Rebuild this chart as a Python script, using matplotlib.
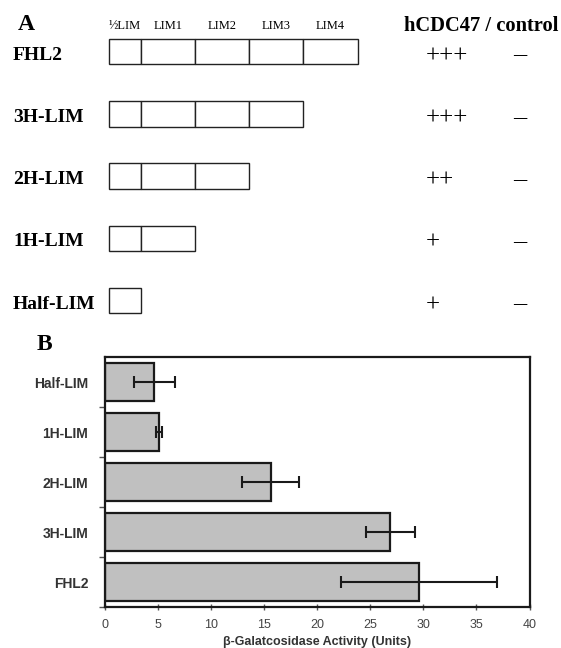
import numpy as np
import matplotlib.pyplot as plt
from matplotlib.patches import Rectangle

# panel A data
constructs = ["FHL2", "3H-LIM", "2H-LIM", "1H-LIM", "Half-LIM"]
domain_names = ["½LIM", "LIM1", "LIM2", "LIM3", "LIM4"]
domain_widths = [0.58, 1, 1, 1, 1]
n_domains = [5, 4, 3, 2, 1]
hcdc47 = ["+++", "+++", "++", "+", "+"]
control = ["–", "–", "–", "–", "–"]

# panel B data (bottom to top)
b_labels = ["FHL2", "3H-LIM", "2H-LIM", "1H-LIM", "Half-LIM"]
activity = [29.6, 26.9, 15.6, 5.1, 4.65]
activity_err = [7.35, 2.35, 2.7, 0.3, 1.95]

W, H = 561, 648
fig = plt.figure(figsize=(W / 100, H / 100), dpi=100)

# ---- panel A: one axes over the whole figure, x in domain units, y in rows
unit_px, row_px = 54.2, 62.2
x0_px, y0_px = 109.3, 51.7
ax_a = fig.add_axes([0, 0, 1, 1])
ax_a.set_xlim(-x0_px / unit_px, (W - x0_px) / unit_px)
ax_a.set_ylim((H - y0_px) / row_px, -y0_px / row_px)
ax_a.axis("off")

serif = "Liberation Serif"
edges = np.concatenate([[0], np.cumsum(domain_widths)])
box_h = 0.41

for i, name in enumerate(constructs):
    for d in range(n_domains[i]):
        ax_a.add_patch(Rectangle((edges[d], i - box_h / 2), domain_widths[d], box_h,
                                 facecolor="white", edgecolor="#222222", lw=1.0))
    ax_a.text(-1.777, i + 0.13, name, family=serif, fontweight="bold", fontsize=14,
              ha="left", va="baseline")
    ax_a.text(5.843, i + 0.17, hcdc47[i], family=serif, fontsize=18, ha="left", va="baseline")
    ax_a.text(7.577, i + 0.14, control[i], family=serif, fontsize=19, ha="center", va="baseline")

for d, dn in enumerate(domain_names):
    ax_a.text((edges[d] + edges[d + 1]) / 2, -0.36, dn, family=serif, fontsize=9,
              ha="center", va="baseline")

ax_a.text(-1.685, -0.35, "A", family=serif, fontweight="bold", fontsize=17, ha="left", va="baseline")
ax_a.text(5.437, -0.33, "hCDC47 / control", family=serif, fontweight="bold", fontsize=14.8,
          ha="left", va="baseline")
ax_a.text(-1.334, 4.8, "B", family=serif, fontweight="bold", fontsize=17, ha="left", va="baseline")

# ---- panel B: bar chart
sans = "Liberation Sans"
ax_b = fig.add_axes([105 / W, 41 / H, 424.5 / W, 250 / H])
pos = np.arange(len(b_labels))
ax_b.barh(pos, activity, height=0.76, color="#c0c0c0", edgecolor="#1a1a1a", lw=1.6)
ax_b.errorbar(activity, pos, xerr=activity_err, fmt="none", ecolor="#1a1a1a",
              elinewidth=1.5, capsize=4, capthick=1.5)

ax_b.set_xlim(0, 40)
ax_b.set_ylim(-0.5, 4.5)
ax_b.set_xticks(np.arange(0, 41, 5))
ax_b.set_yticks(pos)
ax_b.set_yticklabels(b_labels, family=sans, fontweight="bold", fontsize=10, color="#333333")
ax_b.set_yticks(list(pos - 0.5), minor=True)
ax_b.tick_params(axis="y", which="major", length=0, pad=12)
ax_b.tick_params(axis="y", which="minor", length=4, width=1, direction="out", color="#555555")
ax_b.tick_params(axis="x", length=5, width=1, direction="inout", color="#555555",
                 labelcolor="#444444", labelsize=9, pad=6)
for lab in ax_b.get_xticklabels():
    lab.set_family(sans)
for sp in ax_b.spines.values():
    sp.set_linewidth(1.6)
    sp.set_color("#1a1a1a")

ax_b.set_xlabel("β-Galatcosidase Activity (Units)", family=sans, fontweight="bold",
                fontsize=9, color="#333333", labelpad=4)

fig.savefig("out.png", dpi=100)
